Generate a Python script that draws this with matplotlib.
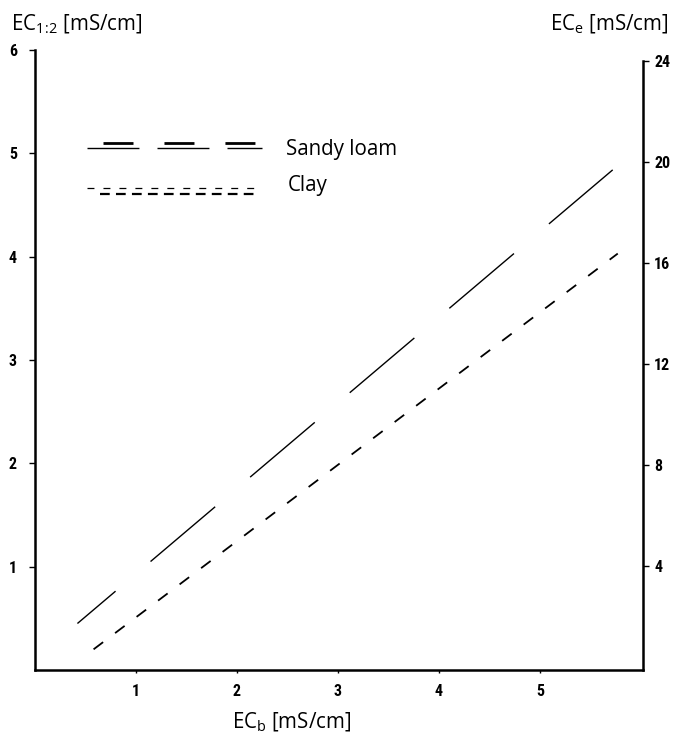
import matplotlib.pyplot as plt
from matplotlib.lines import Line2D

# EC_b vs EC_1:2 end points for the two soils
ecb_sandy = [0.42, 5.72]
ec12_sandy = [0.45, 4.84]
ecb_clay = [0.58, 5.77]
ec12_clay = [0.20, 4.03]

x_ticks = [1, 2, 3, 4, 5]
left_ticks = [1, 2, 3, 4, 5, 6]
right_ticks = [4, 8, 12, 16, 20, 24]

plt.rcParams['lines.scale_dashes'] = False
plt.rcParams['mathtext.fontset'] = 'custom'
plt.rcParams['mathtext.rm'] = 'Open Sans'
plt.rcParams['mathtext.it'] = 'Open Sans'
plt.rcParams['mathtext.bf'] = 'Open Sans'

W, H = 678, 738
tick_font = dict(family=['Roboto Condensed', 'Liberation Sans Narrow', 'Liberation Sans'],
                 weight='bold', size=11.5)
label_font = dict(family='Open Sans', size=14.8)


def fx(x):
    return x / W


def fy(y):
    return 1 - y / H


fig = plt.figure(figsize=(W / 100, H / 100), dpi=100)
ax = fig.add_axes([fx(35), fy(670), (643 - 35) / W, (670 - 50) / H])

ax.plot(ecb_sandy, ec12_sandy, color='black', lw=1.0,
        linestyle=(25, (61, 33)), dash_capstyle='butt')
ax.plot(ecb_clay, ec12_clay, color='black', lw=1.3,
        linestyle=(0, (8.6, 10.8)), dash_capstyle='butt')

ax.set_xlim(0, 6.02)
ax.set_ylim(0, 6)
ax.set_xticks(x_ticks)
ax.set_yticks(left_ticks)
ax.set_xticklabels([str(t) for t in x_ticks], **tick_font)
ax.set_yticklabels([str(t) for t in left_ticks], **tick_font)
ax.tick_params(axis='y', length=4, width=1, pad=9)
ax.tick_params(axis='x', length=2, width=1, pad=8)
for s in ['top', 'right']:
    ax.spines[s].set_visible(False)
for s in ['left', 'bottom']:
    ax.spines[s].set_linewidth(1.8)

ax2 = ax.twinx()
ax2.set_ylim(-0.1, 24.45)
ax2.set_yticks(right_ticks)
ax2.set_yticklabels([str(t) for t in right_ticks], **tick_font)
ax2.tick_params(axis='y', length=4, width=1, pad=4)
for s in ['top', 'left', 'bottom']:
    ax2.spines[s].set_visible(False)
ax2.spines['right'].set_linewidth(1.8)
ax2.spines['right'].set_bounds(-0.1, 24)


# legend drawn by hand
def seg(x0, x1, y, lw, dashes):
    fig.add_artist(Line2D([fx(x0), fx(x1)], [fy(y), fy(y)], color='black',
                          lw=lw, linestyle=(0, dashes), dash_capstyle='butt'))


seg(103, 257, 142.7, 2.0, (21.6, 22.3))
seg(87, 262, 148.3, 1.0, (37.4, 13))
seg(87, 262, 188, 0.9, (5, 6.5))
seg(100, 257, 194, 1.6, (7, 4.5))
fig.text(fx(286), fy(150), 'Sandy loam', va='center', ha='left', **label_font)
fig.text(fx(288), fy(186), 'Clay', va='center', ha='left', **label_font)

fig.text(fx(11), fy(30), 'EC$_{1\\!:\\!2}$ [mS/cm]', va='baseline', ha='left', **label_font)
fig.text(fx(669), fy(30), 'EC$_{\\mathrm{e}}$ [mS/cm]', va='baseline', ha='right', **label_font)
fig.text(fx(292), fy(722), 'EC$_{\\mathrm{b}}$ [mS/cm]', va='center', ha='center', **label_font)

fig.savefig('out.png', dpi=100)
